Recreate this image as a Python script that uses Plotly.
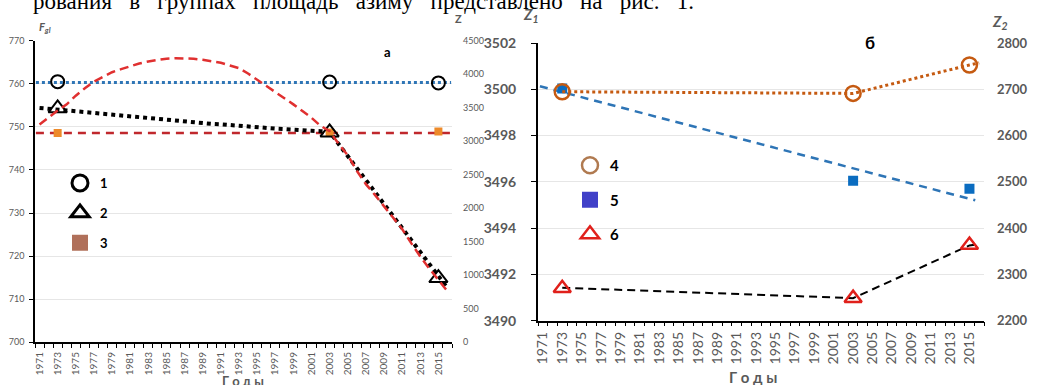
import plotly.graph_objects as go

# ---------------- data ----------------
years = list(range(1971, 2017))
tick_years = list(range(1971, 2016, 2))
pts_years = [1973, 2003, 2015]

# panel "а"
fgl_circles = [760.5, 760.4, 760.2]
fgl_triangles = [754.3, 748.7, 714.9]
fgl_squares = [748.6, 748.7, 748.9]
trend_x_a = [1970.6, 2016.4]
circle_trend = [760.3, 760.3]
square_trend = [748.6, 748.6]
fgl_model = [754.4, 754.2, 754.0, 753.8, 753.6, 753.4, 753.2, 753.0, 752.8, 752.6,
             752.5, 752.3, 752.1, 751.9, 751.7, 751.5, 751.3, 751.1, 750.9, 750.7,
             750.6, 750.4, 750.2, 750.0, 749.8, 749.7, 749.6, 749.5, 749.3, 749.2,
             749.1, 749.0, 748.9, 746.0, 743.3, 740.5, 737.7, 734.9, 732.1, 729.3,
             726.5, 723.7, 721.0, 718.1, 715.4, 712.6]
z_curve = [3250, 3360, 3460, 3550, 3680, 3790, 3890, 3960, 4030, 4075,
           4120, 4160, 4190, 4215, 4232, 4238, 4238, 4232, 4215, 4195,
           4170, 4130, 4090, 4010, 3920, 3830, 3740, 3650, 3550, 3450,
           3350, 3230, 3150, 2960, 2790, 2560, 2360, 2200, 2030, 1850,
           1690, 1480, 1280, 1100, 930, 760]

# panel "б"
z2_circles = [2694.7, 2691.0, 2752.5]
z2_line_x = [1973, 2003, 2015, 2016]
z2_line = [2694.7, 2691.0, 2752.5, 2757.0]
z1_squares = [3500.03, 3496.05, 3495.7]
trend_x_b = [1970.7, 2015.6]
square_trend_b = [3500.13, 3495.2]
z1_triangles = [3491.4, 3490.97, 3493.27]
z1_line_x = [1973, 2003, 2015, 2016]
z1_line = [3491.42, 3490.97, 3493.25, 3493.3]

legend_a = ["1", "2", "3"]
legend_b = ["4", "5", "6"]

W, H = 1039, 385
def px(x):
    return x / W
def py(y):
    return 1 - y / H

GREY = "#595959"
FONT = "Lato"

fig = go.Figure()

# ---- panel а traces ----
fig.add_trace(go.Scatter(x=trend_x_a, y=circle_trend, mode="lines",
                         line=dict(color="#2e75b6", width=3, dash="3px,3px"),
                         xaxis="x", yaxis="y", showlegend=False))
fig.add_trace(go.Scatter(x=trend_x_a, y=square_trend, mode="lines",
                         line=dict(color="#c0282d", width=2.5, dash="8px,6px"),
                         xaxis="x", yaxis="y", showlegend=False))
fig.add_trace(go.Scatter(x=years, y=fgl_model, mode="lines",
                         line=dict(color="black", width=4, dash="4px,4px"),
                         xaxis="x", yaxis="y", showlegend=False))
fig.add_trace(go.Scatter(x=years, y=z_curve, mode="lines",
                         line=dict(color="#e03030", width=2.5, dash="9px,5px"),
                         xaxis="x", yaxis="y2", showlegend=False))
fig.add_trace(go.Scatter(x=pts_years, y=fgl_squares, mode="markers",
                         marker=dict(symbol="square", size=8, color="#ed8a2a"),
                         xaxis="x", yaxis="y", showlegend=False))
fig.add_trace(go.Scatter(x=pts_years, y=fgl_circles, mode="markers",
                         marker=dict(symbol="circle-open", size=13, color="black",
                                     line=dict(width=2, color="black")),
                         xaxis="x", yaxis="y", showlegend=False))
fig.add_trace(go.Scatter(x=pts_years, y=fgl_triangles, mode="markers",
                         marker=dict(symbol="triangle-up-open", size=16, color="black",
                                     line=dict(width=2, color="black")),
                         xaxis="x", yaxis="y", showlegend=False))

# ---- panel б traces ----
fig.add_trace(go.Scatter(x=trend_x_b, y=square_trend_b, mode="lines",
                         line=dict(color="#2e75b6", width=2.5, dash="8px,6px"),
                         xaxis="x2", yaxis="y3", showlegend=False))
fig.add_trace(go.Scatter(x=z1_line_x, y=z1_line, mode="lines",
                         line=dict(color="black", width=2, dash="8px,5px"),
                         xaxis="x2", yaxis="y3", showlegend=False))
fig.add_trace(go.Scatter(x=pts_years, y=z1_squares, mode="markers",
                         marker=dict(symbol="square", size=10, color="#0a6cc0"),
                         xaxis="x2", yaxis="y3", showlegend=False))
fig.add_trace(go.Scatter(x=pts_years, y=z1_triangles, mode="markers",
                         marker=dict(symbol="triangle-up-open", size=15, color="#e0201b",
                                     line=dict(width=2.5, color="#e0201b")),
                         xaxis="x2", yaxis="y3", showlegend=False))
fig.add_trace(go.Scatter(x=z2_line_x, y=z2_line, mode="lines",
                         line=dict(color="#c55a11", width=3, dash="3px,3px"),
                         xaxis="x2", yaxis="y4", showlegend=False))
fig.add_trace(go.Scatter(x=pts_years, y=z2_circles, mode="markers",
                         marker=dict(symbol="circle-open", size=15, color="#c55a11",
                                     line=dict(width=2.5, color="#c55a11")),
                         xaxis="x2", yaxis="y4", showlegend=False))

# ---- legend entries ----
leg_a_markers = [
    dict(symbol="circle-open", size=16, color="black", line=dict(width=3, color="black")),
    dict(symbol="triangle-up-open", size=16, color="black", line=dict(width=3, color="black")),
    dict(symbol="square", size=16, color="#b0705a"),
]
for name, mk in zip(legend_a, leg_a_markers):
    fig.add_trace(go.Scatter(x=[None], y=[None], mode="markers", marker=mk, name=name,
                             legendgroup="a" + name, legend="legend", xaxis="x", yaxis="y"))
leg_b_markers = [
    dict(symbol="circle-open", size=16, color="#b07a50", line=dict(width=2.5, color="#b07a50")),
    dict(symbol="square", size=16, color="#4040c8"),
    dict(symbol="triangle-up-open", size=16, color="#e0201b", line=dict(width=2.5, color="#e0201b")),
]
for name, mk in zip(legend_b, leg_b_markers):
    fig.add_trace(go.Scatter(x=[None], y=[None], mode="markers", marker=mk, name=name,
                             legendgroup="b" + name, legend="legend2", xaxis="x2", yaxis="y3"))

# ---- axes ----
def xaxis(domain, anchor, size):
    return dict(domain=domain, anchor=anchor, range=[1970.5, 2016.5],
                tickmode="array", tickvals=tick_years,
                ticktext=[str(y) for y in tick_years], tickangle=-90,
                ticks="", ticklabelstandoff=4,
                tickfont=dict(size=size, color=GREY, family=FONT),
                showgrid=False, zeroline=False, showline=True,
                linecolor="black", linewidth=1.5,
                minor=dict(ticks="outside", tickmode="linear", tick0=0.5, dtick=1,
                           ticklen=4, tickcolor="black", tickwidth=1, showgrid=False))

fig.update_layout(
    width=W, height=H,
    margin=dict(l=0, r=0, t=0, b=0, autoexpand=False),
    paper_bgcolor="white", plot_bgcolor="white",
    font=dict(family=FONT, color=GREY),
    xaxis=xaxis([px(35), px(452)], "y", 10),
    yaxis=dict(domain=[py(342.3), py(40.7)], anchor="x", range=[700, 770], dtick=10,
               showgrid=True, gridcolor="#e6e6e6", zeroline=False, showline=True,
               linecolor="black", linewidth=1.5, ticks="outside", ticklen=4,
               tickcolor="black", ticklabelstandoff=3,
               tickfont=dict(size=9, color=GREY, family=FONT)),
    yaxis2=dict(overlaying="y", anchor="x", side="right", range=[0, 4500], dtick=500,
                showgrid=False, zeroline=False, showline=False, ticks="",
                ticklabelstandoff=10, tickfont=dict(size=9, color=GREY, family=FONT)),
    xaxis2=xaxis([px(538), px(984)], "y3", 14),
    yaxis3=dict(domain=[py(320.6), py(43)], anchor="x2", range=[3490, 3502], dtick=2,
                showgrid=True, gridcolor="#e6e6e6", zeroline=False, showline=True,
                linecolor="black", linewidth=2, ticks="outside", ticklen=5,
                tickcolor="black", ticklabelstandoff=12,
                tickfont=dict(size=14, color=GREY, family=FONT, weight="bold")),
    yaxis4=dict(overlaying="y3", anchor="x2", side="right", range=[2200, 2800], dtick=100,
                showgrid=False, zeroline=False, showline=False, ticks="",
                ticklabelstandoff=12,
                tickfont=dict(size=13, color=GREY, family=FONT, weight="bold")),
    legend=dict(x=px(60), y=py(168), xanchor="left", yanchor="top",
                font=dict(size=13, color="black", family=FONT, weight="bold"),
                bgcolor="rgba(0,0,0,0)", tracegroupgap=10, itemsizing="trace"),
    legend2=dict(x=px(570), y=py(149), xanchor="left", yanchor="top",
                 font=dict(size=15, color="black", family=FONT, weight="bold"),
                 bgcolor="rgba(0,0,0,0)", tracegroupgap=12, itemsizing="trace"),
)

top_text = "рования в группах площадь азиму представлено на рис. 1.".replace(" ", " \u00a0\u00a0")

ann = [
    dict(text=top_text, x=px(696), y=py(1), xanchor="right", yanchor="middle",
         font=dict(family="Liberation Serif", size=23, color="black")),
    dict(text="<i>F<sub>gl</sub></i>", x=px(37), y=py(27), xanchor="left",
         font=dict(size=11, color=GREY, weight="bold")),
    dict(text="Z", x=px(458), y=py(18), font=dict(size=11, color=GREY, weight="bold")),
    dict(text="а", x=px(387), y=py(52), font=dict(size=13, color="black", weight="bold")),
    dict(text="<i>Z<sub>1</sub></i>", x=px(531), y=py(15),
         font=dict(size=15, color=GREY, weight="bold")),
    dict(text="<i>Z<sub>2</sub></i>", x=px(1000), y=py(22),
         font=dict(size=15, color=GREY, weight="bold")),
    dict(text="б", x=px(870), y=py(42), font=dict(size=17, color="black", weight="bold")),
    dict(text="Г о д ы", x=px(243), y=py(381), font=dict(size=13, color=GREY, weight="bold")),
    dict(text="Г о д ы", x=px(753), y=py(377), font=dict(size=15, color=GREY, weight="bold")),
]
for a in ann:
    a.update(xref="paper", yref="paper", showarrow=False)
    a.setdefault("xanchor", "center")
    a.setdefault("yanchor", "middle")
fig.update_layout(annotations=ann)

fig.write_html("out.html", config={"displayModeBar": False},
               post_script="document.body.style.margin='0';document.body.style.overflow='hidden';")
